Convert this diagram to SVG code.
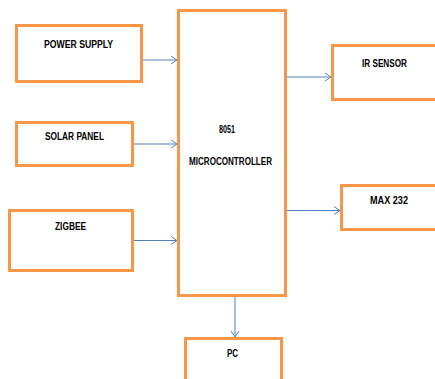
<svg xmlns="http://www.w3.org/2000/svg" width="435" height="379" viewBox="0 0 435 379">
<defs>
<style>
.box{fill:#fff;stroke:#F79646;stroke-width:3}
.lbl{font-family:"Liberation Sans",Arial,sans-serif;font-weight:bold;font-size:11.5px;fill:#000}
.con{stroke:#4F81BD;stroke-width:1;fill:none;marker-end:url(#ah)}
</style>
<marker id="ah" markerWidth="8" markerHeight="10" refX="7" refY="5" orient="auto" markerUnits="userSpaceOnUse">
<path d="M1,1 L7,5 L1,9" fill="none" stroke="#4F81BD" stroke-width="1"/>
</marker>
</defs>
<rect width="435" height="379" fill="#fff"/>
<g id="power-supply"><rect class="box" x="16.5" y="25.5" width="125" height="56"/><text class="lbl" x="44" y="48" textLength="69" lengthAdjust="spacingAndGlyphs">POWER SUPPLY</text></g>
<g id="solar-panel"><rect class="box" x="16.5" y="122.5" width="116" height="43"/><text class="lbl" x="45" y="140" textLength="59" lengthAdjust="spacingAndGlyphs">SOLAR PANEL</text></g>
<g id="zigbee"><rect class="box" x="9.5" y="210.5" width="123" height="60"/><text class="lbl" x="55" y="230" textLength="31" lengthAdjust="spacingAndGlyphs">ZIGBEE</text></g>
<g id="microcontroller"><rect class="box" x="178.5" y="10.5" width="107" height="285"/><text class="lbl" x="219" y="133" textLength="16" lengthAdjust="spacingAndGlyphs">8051</text><text class="lbl" x="189" y="165" textLength="83" lengthAdjust="spacingAndGlyphs">MICROCONTROLLER</text></g>
<g id="ir-sensor"><rect class="box" x="332.5" y="45.5" width="110" height="54"/><text class="lbl" x="362" y="67" textLength="45" lengthAdjust="spacingAndGlyphs">IR SENSOR</text></g>
<g id="max232"><rect class="box" x="341.5" y="185.5" width="100" height="44"/><text class="lbl" x="370" y="204" textLength="38" lengthAdjust="spacingAndGlyphs">MAX 232</text></g>
<g id="pc"><rect class="box" x="185.5" y="338.5" width="96" height="60"/><text class="lbl" x="227" y="357" textLength="11" lengthAdjust="spacingAndGlyphs">PC</text></g>
<g id="connectors">
<line class="con" x1="143" y1="60" x2="177" y2="60"/>
<line class="con" x1="134" y1="144" x2="177" y2="144"/>
<line class="con" x1="134" y1="240.5" x2="177" y2="240.5"/>
<line class="con" x1="287" y1="77" x2="331" y2="77"/>
<line class="con" x1="287" y1="210.5" x2="340" y2="210.5"/>
<line class="con" x1="235" y1="297" x2="235" y2="337"/>
</g>
</svg>
